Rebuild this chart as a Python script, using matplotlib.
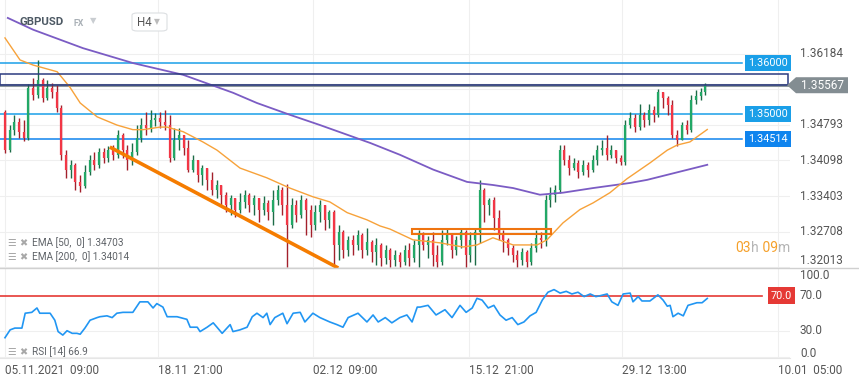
import matplotlib
matplotlib.use("Agg")
import matplotlib.pyplot as plt
from matplotlib.transforms import blended_transform_factory
from matplotlib.patches import Rectangle, Polygon, FancyBboxPatch
from matplotlib.offsetbox import TextArea, HPacker, AnnotationBbox

plt.rcParams['font.family'] = ['Roboto', 'DejaVu Sans']

# GBPUSD H4 candles (open of each bar = close of the previous one)
first_open = 1.3505
closes = [1.3430, 1.3470, 1.3485, 1.3466, 1.3454, 1.3551, 1.3538, 1.3567, 1.3532, 1.3551,
          1.3544, 1.3512, 1.3421, 1.3392, 1.3401, 1.3368, 1.3360, 1.3388, 1.3411, 1.3401,
          1.3427, 1.3415, 1.3430, 1.3421, 1.3460, 1.3430, 1.3411, 1.3427, 1.3454, 1.3479,
          1.3473, 1.3489, 1.3493, 1.3485, 1.3479, 1.3415, 1.3450, 1.3460, 1.3434, 1.3392,
          1.3411, 1.3382, 1.3395, 1.3372, 1.3353, 1.3362, 1.3343, 1.3323, 1.3337, 1.3314,
          1.3329, 1.3343, 1.3323, 1.3337, 1.3314, 1.3327, 1.3310, 1.3333, 1.3353, 1.3323,
          1.3284, 1.3323, 1.3304, 1.3333, 1.3314, 1.3284, 1.3310, 1.3323, 1.3294, 1.3310,
          1.3245, 1.3271, 1.3236, 1.3255, 1.3245, 1.3265, 1.3236, 1.3251, 1.3232, 1.3245,
          1.3220, 1.3236, 1.3216, 1.3226, 1.3212, 1.3236, 1.3220, 1.3245, 1.3269, 1.3245,
          1.3255, 1.3226, 1.3212, 1.3255, 1.3265, 1.3236, 1.3255, 1.3271, 1.3226, 1.3255,
          1.3271, 1.3353, 1.3323, 1.3333, 1.3298, 1.3265, 1.3255, 1.3239, 1.3226, 1.3216,
          1.3232, 1.3212, 1.3239, 1.3259, 1.3255, 1.3333, 1.3343, 1.3353, 1.3430, 1.3411,
          1.3395, 1.3405, 1.3388, 1.3401, 1.3392, 1.3411, 1.3430, 1.3434, 1.3421, 1.3430,
          1.3415, 1.3407, 1.3479, 1.3493, 1.3475, 1.3499, 1.3489, 1.3508, 1.3499, 1.3544,
          1.3532, 1.3518, 1.3460, 1.3450, 1.3479, 1.3470, 1.3528, 1.3536, 1.3544, 1.35567]
highs = [1.3508, 1.3479, 1.3499, 1.3493, 1.3489, 1.3559, 1.3571, 1.3606, 1.3571, 1.3567,
         1.3561, 1.3557, 1.3518, 1.3430, 1.3411, 1.3405, 1.3382, 1.3401, 1.3421, 1.3427,
         1.3434, 1.3434, 1.3438, 1.3440, 1.3470, 1.3464, 1.3440, 1.3444, 1.3479, 1.3493,
         1.3505, 1.3508, 1.3503, 1.3505, 1.3508, 1.3499, 1.3473, 1.3473, 1.3460, 1.3450,
         1.3421, 1.3411, 1.3401, 1.3395, 1.3388, 1.3372, 1.3362, 1.3349, 1.3343, 1.3337,
         1.3347, 1.3353, 1.3347, 1.3343, 1.3337, 1.3341, 1.3333, 1.3353, 1.3362, 1.3358,
         1.3364, 1.3337, 1.3333, 1.3343, 1.3337, 1.3323, 1.3323, 1.3333, 1.3323, 1.3314,
         1.3314, 1.3284, 1.3275, 1.3263, 1.3265, 1.3275, 1.3269, 1.3278, 1.3255, 1.3259,
         1.3249, 1.3245, 1.3239, 1.3236, 1.3232, 1.3245, 1.3249, 1.3255, 1.3275, 1.3271,
         1.3263, 1.3271, 1.3245, 1.3275, 1.3278, 1.3269, 1.3263, 1.3278, 1.3275, 1.3271,
         1.3278, 1.3372, 1.3356, 1.3337, 1.3339, 1.3314, 1.3275, 1.3259, 1.3245, 1.3236,
         1.3239, 1.3236, 1.3249, 1.3275, 1.3271, 1.3343, 1.3358, 1.3362, 1.3440, 1.3440,
         1.3421, 1.3415, 1.3411, 1.3411, 1.3407, 1.3421, 1.3440, 1.3450, 1.3460, 1.3440,
         1.3430, 1.3421, 1.3489, 1.3505, 1.3501, 1.3520, 1.3505, 1.3520, 1.3516, 1.3549,
         1.3544, 1.3536, 1.3528, 1.3470, 1.3485, 1.3489, 1.3538, 1.3548, 1.3551, 1.3561]
lows = [1.3425, 1.3427, 1.3460, 1.3454, 1.3448, 1.3450, 1.3528, 1.3532, 1.3524, 1.3528,
        1.3532, 1.3505, 1.3411, 1.3376, 1.3376, 1.3353, 1.3349, 1.3356, 1.3382, 1.3392,
        1.3395, 1.3405, 1.3407, 1.3411, 1.3415, 1.3415, 1.3392, 1.3401, 1.3421, 1.3446,
        1.3460, 1.3466, 1.3477, 1.3473, 1.3470, 1.3407, 1.3411, 1.3430, 1.3421, 1.3388,
        1.3388, 1.3368, 1.3362, 1.3353, 1.3343, 1.3337, 1.3323, 1.3310, 1.3304, 1.3300,
        1.3308, 1.3317, 1.3310, 1.3304, 1.3290, 1.3304, 1.3294, 1.3284, 1.3323, 1.3304,
        1.3202, 1.3278, 1.3290, 1.3298, 1.3265, 1.3261, 1.3275, 1.3290, 1.3275, 1.3278,
        1.3206, 1.3216, 1.3220, 1.3224, 1.3226, 1.3236, 1.3220, 1.3226, 1.3212, 1.3206,
        1.3204, 1.3208, 1.3202, 1.3204, 1.3202, 1.3206, 1.3204, 1.3212, 1.3202, 1.3236,
        1.3220, 1.3204, 1.3202, 1.3206, 1.3245, 1.3220, 1.3226, 1.3239, 1.3202, 1.3212,
        1.3206, 1.3249, 1.3290, 1.3304, 1.3275, 1.3255, 1.3232, 1.3226, 1.3212, 1.3202,
        1.3206, 1.3202, 1.3206, 1.3232, 1.3239, 1.3243, 1.3319, 1.3329, 1.3347, 1.3401,
        1.3382, 1.3392, 1.3376, 1.3382, 1.3378, 1.3388, 1.3401, 1.3421, 1.3411, 1.3415,
        1.3405, 1.3401, 1.3401, 1.3473, 1.3466, 1.3470, 1.3475, 1.3479, 1.3485, 1.3495,
        1.3512, 1.3499, 1.3454, 1.3438, 1.3450, 1.3462, 1.3466, 1.3520, 1.3528, 1.3538]

# moving averages (bar position, value)
ema50_x = [0, 3.2, 6.0, 11.1, 13.8, 16.0, 19.6, 23.8, 27.2, 29.4, 33.0, 34.5, 37.9, 42.1,
           45.1, 50.0, 55.7, 60.6, 65.5, 69.1, 72.8, 77.0, 79.8, 81.9, 86.8, 92.6, 97.4,
           100.4, 103.8, 108.1, 113.2, 115.3, 118.7, 122.3, 125.1, 128.7, 132.3, 137.2,
           140.9, 143.0, 145.7, 149.4]
ema50 = [1.3649, 1.3606, 1.3596, 1.3583, 1.3553, 1.3522, 1.3495, 1.3479, 1.3470, 1.3470,
         1.3475, 1.3475, 1.3466, 1.3446, 1.3430, 1.3395, 1.3376, 1.3356, 1.3339, 1.3329,
         1.3308, 1.3294, 1.3282, 1.3276, 1.3255, 1.3249, 1.3241, 1.3245, 1.3259, 1.3245,
         1.3245, 1.3255, 1.3288, 1.3314, 1.3327, 1.3347, 1.3374, 1.3405, 1.3430, 1.3440,
         1.3446, 1.34703]
ema200_x = [0.6, 6.0, 16.6, 27.2, 37.9, 48.5, 53.6, 60.6, 67.0, 77.7, 84.0, 91.1, 98.3,
            103.8, 108.1, 113.8, 118.7, 125.1, 133.0, 136.6, 149.4]
ema200 = [1.3688, 1.3665, 1.3629, 1.3600, 1.3577, 1.3542, 1.3522, 1.3499, 1.3479, 1.3444,
          1.3421, 1.3392, 1.3368, 1.3362, 1.3356, 1.3343, 1.3347, 1.3356, 1.3366, 1.3372,
          1.34014]

# RSI 14
rsi_x = [0, 1.1, 2.1, 3.6, 4.3, 5.7, 6.8, 7.4, 9.6, 10.6,
         11.3, 12.3, 13.2, 14.3, 15.3, 16.0, 17.0, 18.1, 19.6, 20.2,
         21.7, 22.8, 23.8, 25.1, 26.2, 27.2, 28.7, 30.4, 31.5, 32.3,
         33.6, 34.5, 36.6, 38.7, 39.4, 40.9, 41.5, 43.0, 44.3, 45.1,
         46.2, 47.9, 48.5, 50.0, 51.5, 52.6, 53.6, 54.9, 55.7, 56.4,
         57.4, 59.1, 60.0, 61.3, 62.8, 63.8, 65.5, 67.0, 69.1, 70.6,
         71.9, 73.0, 75.1, 77.0, 78.3, 79.4, 80.9, 82.3, 84.0, 85.5,
         86.6, 87.7, 88.3, 90.0, 91.7, 93.6, 95.1, 96.8, 98.1, 99.4,
         100.4, 101.5, 102.8, 104.0, 105.3, 106.6, 107.9, 109.1, 110.4, 111.7,
         113.0, 114.3, 115.5, 116.8, 118.1, 119.4, 120.6, 121.9, 123.2, 124.5,
         125.7, 126.6, 128.1, 129.1, 130.4, 131.5, 133.0, 133.6, 134.7, 135.5,
         137.2, 138.9, 140.0, 140.9, 141.5, 142.1, 143.2, 144.3, 145.3, 147.2,
         148.3, 149.4]
rsi = [22, 31, 33, 33, 50, 51, 56, 50, 50, 42,
       29, 25, 30, 27, 27, 26, 33, 42, 45, 46,
       47, 45, 50, 51, 51, 51, 63, 63, 56, 61,
       57, 46, 46, 43, 34, 34, 29, 34, 39, 34,
       27, 37, 29, 31, 34, 46, 50, 45, 50, 37,
       45, 50, 38, 50, 51, 40, 50, 45, 40, 37,
       34, 45, 50, 40, 48, 40, 45, 39, 45, 48,
       40, 57, 57, 59, 48, 54, 45, 59, 51, 56,
       67, 65, 56, 59, 48, 42, 45, 37, 40, 47,
       51, 65, 74, 77, 73, 75, 72, 74, 69, 72,
       69, 70, 72, 63, 59, 72, 73, 63, 69, 64,
       64, 71, 65, 58, 59, 46, 50, 47, 59, 62,
       62, 66.9]

# drawings
trend_x = [22.3, 70.9]
trend_y = [1.3436, 1.3200]
zone_x = [86.6, 116.2]
zone_y = [1.3267, 1.3277]
levels = [1.36000, 1.35000, 1.34514]
level_colors = ['#1a9fe8', '#1a9fe8', '#0f84ee']
last_price = 1.35567
box_top = 1.35778

price_ticks = [1.36184, 1.35489, 1.34793, 1.34098, 1.33403, 1.32708, 1.32013]
rsi_ticks = [100, 70, 30, 0]
time_pos = [0, 32.6, 65.5, 98.7, 131.3, 164.5]
time_labels = ["05.11.2021  09:00", "18.11  21:00", "02.12  09:00",
               "15.12  21:00", "29.12  13:00", "10.01  05:00"]

W, H = 859, 385
fig = plt.figure(figsize=(W / 100, H / 100), dpi=100)
ax = fig.add_axes([0, 1 - 268 / H, 790 / W, 268 / H])
ax2 = fig.add_axes([0, 1 - 358 / H, 790 / W, 90 / H], sharex=ax)

ax.set_xlim(-1.06, 167.0)
ax.set_ylim(1.3200, 1.3723)
ax2.set_ylim(-1.2, 101.7)

for a in (ax, ax2):
    for s in a.spines.values():
        s.set_visible(False)
    a.set_xticks(time_pos)
    a.grid(True, color='#efefef', lw=0.8)
    a.set_axisbelow(True)
    a.tick_params(length=0, labelleft=False, labelright=False)
ax.set_yticks(price_ticks)
ax.tick_params(labelbottom=False)
ax2.set_yticks([30, 0])
ax2.set_xticklabels(time_labels, ha='left', fontsize=8.5, color='#555555')
ax2.tick_params(axis='x', pad=4)
ax2.spines['bottom'].set_visible(True)
ax2.spines['bottom'].set_color('#e6e6e6')

# candles
opens = [first_open] + closes[:-1]
for i, (o, h, l, c) in enumerate(zip(opens, highs, lows, closes)):
    up = c >= o
    wick = '#1c6b47' if up else '#a3202c'
    body = '#22a866' if up else '#f23645'
    ax.vlines(i, min(l, o, c), max(h, o, c), color=wick, lw=1.0, zorder=3)
    ax.vlines(i, min(o, c), max(o, c), color=body, lw=1.6, zorder=4)

ax.plot(ema200_x, ema200, color='#7b5cc4', lw=1.3, zorder=5)
ax.plot(ema50_x, ema50, color='#f7a23a', lw=1.0, zorder=5)
ax.plot(trend_x, trend_y, color='#f57c00', lw=2.6, zorder=6, solid_capstyle='butt')
ax.add_patch(Rectangle((zone_x[0], zone_y[0]), zone_x[1] - zone_x[0], zone_y[1] - zone_y[0],
                       fill=False, ec='#ef7410', lw=1.5, zorder=6))

bt = blended_transform_factory(ax.transAxes, ax.transData)
for lv, col in zip(levels, level_colors):
    ax.axhline(lv, xmin=0, xmax=742 / 790, color=col, lw=1.1, zorder=2)
    ax.text(788 / 790, lv, f"{lv:.5f}", transform=bt, ha='right', va='center',
            fontsize=7.8, color='white', zorder=8,
            bbox=dict(boxstyle='square,pad=0.28', fc=col, ec='none'))

ax.plot([0, 788 / 790], [last_price, last_price], transform=bt, color='#8d979c', lw=2.2, zorder=2)
ax.add_patch(Rectangle((0, last_price), 788 / 790, box_top - last_price, transform=bt,
                       fill=False, ec='#2b3a80', lw=1.1, zorder=7))

# current price tag with arrow
ft = blended_transform_factory(fig.transFigure, ax.transData)
hh = (ax.get_ylim()[1] - ax.get_ylim()[0]) / 268 * 8
tag = Polygon([(787 / W, last_price), (796 / W, last_price + hh), (848 / W, last_price + hh),
               (848 / W, last_price - hh), (796 / W, last_price - hh)],
              closed=True, transform=ft, fc='#838d92', ec='none', clip_on=False, zorder=8)
ax.add_patch(tag)
ax.text(822 / W, last_price, f"{last_price:.5f}", transform=ft, ha='center', va='center',
        fontsize=8.5, color='white', zorder=9)

# right axis labels
for t in price_ticks:
    if t == 1.35489:
        continue
    ax.text(800 / 790, t, f"{t:.5f}", transform=bt, ha='left',
            va='bottom' if t == price_ticks[-1] else 'center', fontsize=8.5, color='#555555')

bt2 = blended_transform_factory(ax2.transAxes, ax2.transData)
for t in rsi_ticks:
    va = {100: 'top', 70: 'center', 30: 'center', 0: 'baseline'}[t]
    ax2.text(800 / 790, t, f"{t:.1f}", transform=bt2, ha='left', va=va,
             fontsize=8.5, color='#555555')

# RSI panel
ax2.axhline(70, xmax=762 / 790, color='#e53935', lw=1.2, zorder=2)
ax2.text(792 / 790, 70, "70.0", transform=bt2, ha='right', va='center', fontsize=7.8,
         color='white', zorder=8, bbox=dict(boxstyle='square,pad=0.3', fc='#e53935', ec='none'))
ax2.plot(rsi_x, rsi, color='#2196f3', lw=1.2, zorder=4)

# panel separator
fig.add_artist(plt.Line2D([0, 1], [1 - 268 / H, 1 - 268 / H], transform=fig.transFigure,
                          color='#d0d0d0', lw=1.0))

# countdown
parts = [("03", '#f5a02a'), ("h", '#b5b5b5'), (" 09", '#f5a02a'), ("m", '#b5b5b5')]
boxes = [TextArea(s, textprops=dict(color=c, fontsize=10)) for s, c in parts]
pack = HPacker(children=boxes, pad=0, sep=0)
ax.add_artist(AnnotationBbox(pack, (790 / 790, 1 - 248 / 268), xycoords='axes fraction',
                             box_alignment=(1, 0.5), frameon=False, pad=0))

# legend rows
def legend_row(y, label):
    fig.text(7 / W, 1 - y / H, "\u2630", family='DejaVu Sans', fontsize=7, color='#a8a8a8', va='center')
    fig.text(19 / W, 1 - y / H, "\u2716", family='DejaVu Sans', fontsize=7, color='#a8a8a8', va='center')
    fig.text(32 / W, 1 - y / H, label, fontsize=7.2, color='#5f6368', va='center')

legend_row(243, "EMA [50,  0] 1.34703")
legend_row(257, "EMA [200,  0] 1.34014")
legend_row(352, "RSI [14] 66.9")

# header
fig.text(20 / W, 1 - 22 / H, "GBPUSD", fontsize=8.2, weight='bold', color='#4d5964', va='center')
fig.text(74 / W, 1 - 23 / H, "FX", fontsize=6.3, weight='bold', color='#a9b0b6', va='center')
fig.text(90 / W, 1 - 21 / H, "\u25bc", family='DejaVu Sans', fontsize=6, color='#c9cdd1', va='center')
fig.add_artist(FancyBboxPatch((132 / W, 1 - 31 / H), 35 / W, 18 / H,
                              boxstyle='round,pad=0,rounding_size=0.006',
                              transform=fig.transFigure, fc='white', ec='#dcdfe2', lw=0.8))
fig.text(137 / W, 1 - 22 / H, "H4", fontsize=8.3, color='#555555', va='center')
fig.text(154 / W, 1 - 22 / H, "\u25bc", family='DejaVu Sans', fontsize=5.5, color='#bbbbbb', va='center')

fig.savefig("out.png", dpi=100)
